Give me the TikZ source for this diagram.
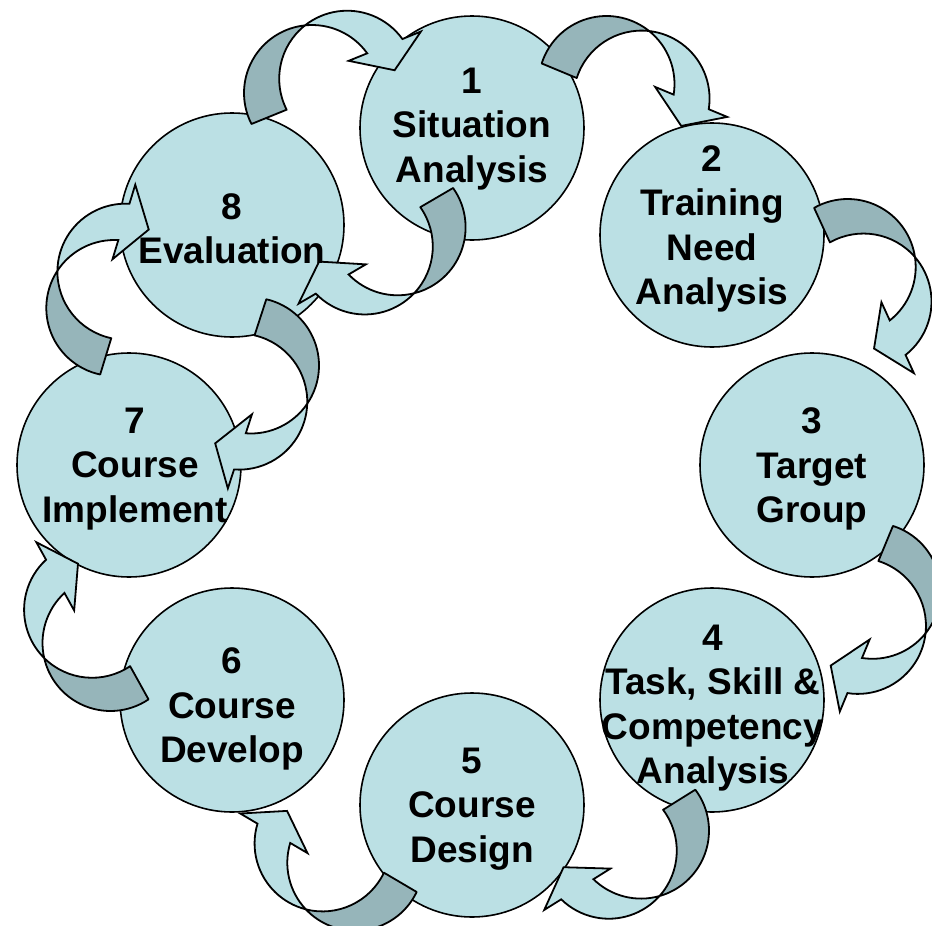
\documentclass[tikz,border=0pt]{standalone}
\usepackage{fontspec}
\setmainfont{Liberation Sans}
\definecolor{stagefill}{RGB}{187,224,228}
\definecolor{arrowdark}{RGB}{150,181,186}
% One curved block arrow: a band between two circles of radius 68 whose
% centres lie 38 apart; the back of the ribbon (tail half) is shaded darker.
% #1,#2 = centre of the first circle, #3 = rotation of the local x axis.
\newcommand\cyclearrow[3]{%
  \begin{scope}[shift={(#1,#2)},rotate=#3,yscale=-1]
    \filldraw[backside] (-67.74,-5.93)
      arc[start angle=185,end angle=73.78,radius=68]
      arc[start angle=106.22,end angle=185,radius=68] -- cycle;
    \filldraw[frontside] (19,65.29)
      arc[start angle=106.22,end angle=13.61,radius=68]
      -- (124.09,16) -- (85.09,-10) -- (46.09,16) -- (66.09,16)
      arc[start angle=13.61,end angle=73.78,radius=68] -- cycle;
  \end{scope}}
\begin{document}
\begin{tikzpicture}[x=1pt,y=1pt,yscale=-1,
  stage/.style={circle,draw=black,line width=1.6,fill=stagefill,
    minimum size=224,inner sep=0},
  stagetext/.style={align=center,inner sep=0,
    font=\fontsize{37}{44.5}\selectfont\bfseries},
  backside/.style={fill=arrowdark,draw=black,line width=1.8,line join=round},
  frontside/.style={fill=stagefill,draw=black,line width=1.8,line join=miter}]
\useasboundingbox (0,0) rectangle (932,926);

% stages
\node[stage] (s1) at (472,128) {};
\node[stage] (s2) at (712,235) {};
\node[stage] (s3) at (812,465) {};
\node[stage] (s4) at (712,700) {};
\node[stage] (s5) at (472,805) {};
\node[stage] (s6) at (232,700) {};
\node[stage] (s7) at (129,465) {};
\node[stage] (s8) at (232,225) {};

% clockwise arrows round the outside
\cyclearrow{312}{93}{-22.1}      % 8 -> 1
\cyclearrow{606.5}{84}{22.6}     % 1 -> 2
\cyclearrow{847.7}{267}{65.4}    % 2 -> 3
\cyclearrow{872.5}{590.8}{112.5} % 3 -> 4
\cyclearrow{641}{830.6}{148}     % 4 -> 5
\cyclearrow{355.3}{862.7}{210.5} % 5 -> 6
\cyclearrow{110.5}{643}{241}     % 6 -> 7
\cyclearrow{114.3}{308}{287}     % 7 -> 8
% feedback arrows on the inside
\cyclearrow{397.6}{227.3}{149.7} % 1 -> 8
\cyclearrow{251}{365.5}{108}     % 8 -> 7

% labels
\node[stagetext] (t1) at (472,129) {1\\Situation\\Analysis};
\node[stagetext] (t2) at (712,229) {2\\Training\\Need\\Analysis};
\node[stagetext] (t3) at (812,469) {3\\Target\\Group};
\node[stagetext] (t4) at (713,708) {4\\Task, Skill \&\\Competency\\Analysis};
\node[stagetext] (t5) at (472,809) {5\\Course\\Design};
\node[stagetext] (t6) at (232,709) {6\\Course\\Develop};
\node[stagetext] (t7) at (135,469) {7\\Course\\Implement};
\node[stagetext] (t8) at (232,229) {8\\Evaluation};
\end{tikzpicture}
\end{document}
